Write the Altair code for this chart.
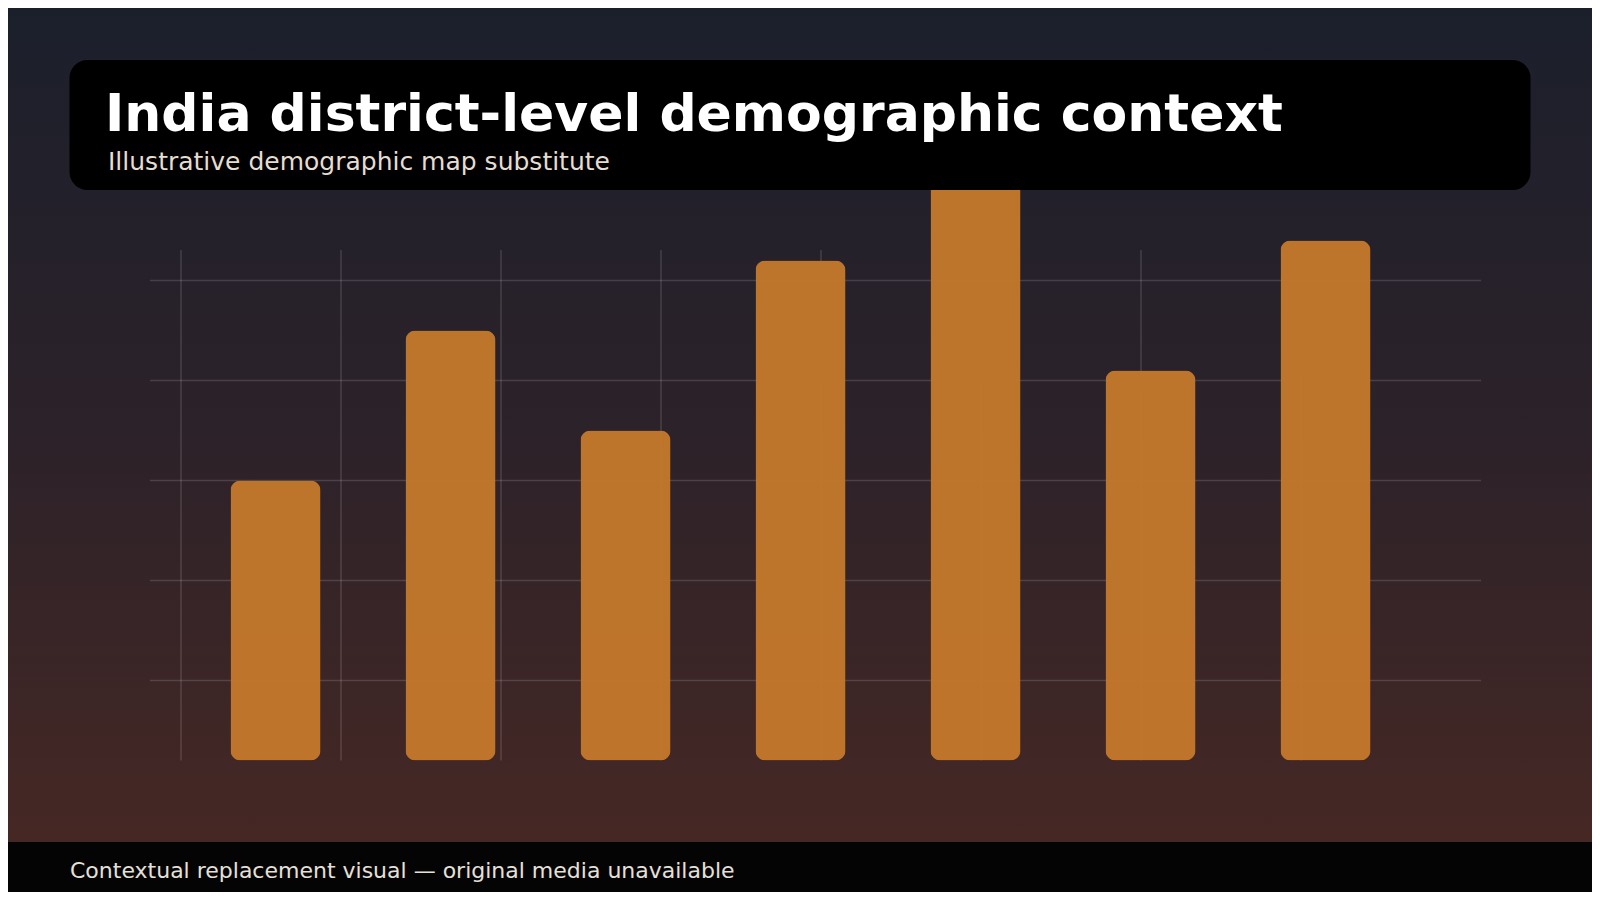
import altair as alt
import pandas as pd

# ---- data ----
categories = ["D1", "D2", "D3", "D4", "D5", "D6", "D7"]
values = [28, 43, 33, 50, 60, 39, 52]
grid_y_values = [8, 18, 28, 38, 48]
grid_x_values = [0, 1, 2, 3, 4, 5, 6, 7]

title_text = ["India district-level demographic context"]
subtitle_text = ["Illustrative demographic map substitute"]
footer_text = ["Contextual replacement visual \u2014 original media unavailable"]

W, H = 1584, 884
FONT = "DejaVu Sans"

bars_df = pd.DataFrame({"cat": categories, "val": values})
gy_df = pd.DataFrame({"v": grid_y_values})
gx_df = pd.DataFrame({"g": grid_x_values})
one = pd.DataFrame({"a": [0]})

yscale = alt.Scale(domain=[0, 70], range=[752.5, 52.5], nice=False, zero=True)
xband = alt.Scale(domain=categories, range=[180, 1405], paddingInner=0.4857, paddingOuter=0.2429)
xgrid = alt.Scale(domain=[0, 7], range=[173, 1293], nice=False, zero=False)

bg_gradient = alt.LinearGradient(
    gradient="linear",
    stops=[
        alt.GradientStop(color="#1b1f2c", offset=0),
        alt.GradientStop(color="#2d2229", offset=0.5),
        alt.GradientStop(color="#462824", offset=0.95),
        alt.GradientStop(color="#472824", offset=1),
    ],
    x1=0, x2=0, y1=0, y2=1,
)

background = alt.Chart(one).mark_rect(color=bg_gradient).encode(
    x=alt.value(0), x2=alt.value(W), y=alt.value(0), y2=alt.value(H)
)

hgrid = alt.Chart(gy_df).mark_rule(color="#ffffff", opacity=0.14, strokeWidth=1.5).encode(
    y=alt.Y("v:Q", scale=yscale, axis=None),
    x=alt.value(142), x2=alt.value(1473),
)

vgrid = alt.Chart(gx_df).mark_rule(color="#ffffff", opacity=0.14, strokeWidth=1.5).encode(
    x=alt.X("g:Q", scale=xgrid, axis=None),
    y=alt.value(242), y2=alt.value(752.5),
)

bars = alt.Chart(bars_df).mark_bar(color="#c2772b", opacity=0.97, cornerRadius=10).encode(
    x=alt.X("cat:N", scale=xband, axis=None, sort=categories),
    y=alt.Y("val:Q", scale=yscale, axis=None),
)

title_box = alt.Chart(one).mark_rect(color="#000000", cornerRadius=18).encode(
    x=alt.value(61.5), x2=alt.value(1522.5), y=alt.value(52), y2=alt.value(182)
)

title = alt.Chart(pd.DataFrame({"t": title_text})).mark_text(
    align="left", baseline="alphabetic", font=FONT, fontWeight="bold", fontSize=52, color="#ffffff"
).encode(x=alt.value(97), y=alt.value(123), text="t:N")

subtitle = alt.Chart(pd.DataFrame({"t": subtitle_text})).mark_text(
    align="left", baseline="alphabetic", font=FONT, fontSize=25, color="#e6ddd0"
).encode(x=alt.value(100), y=alt.value(161.5), text="t:N")

footer_band = alt.Chart(one).mark_rect(color="#050405").encode(
    x=alt.value(0), x2=alt.value(W), y=alt.value(834), y2=alt.value(H)
)

footer = alt.Chart(pd.DataFrame({"t": footer_text})).mark_text(
    align="left", baseline="alphabetic", font=FONT, fontSize=22, color="#e6e0d8"
).encode(x=alt.value(62), y=alt.value(870), text="t:N")

chart = alt.layer(
    background, hgrid, vgrid, bars, title_box, title, subtitle, footer_band, footer
).resolve_scale(x="independent").properties(
    width=W, height=H, padding=0, autosize="none", background="#1c1f2c"
).configure_view(stroke=None)

chart.save("out.html", embed_options={"renderer": "svg", "actions": False})
